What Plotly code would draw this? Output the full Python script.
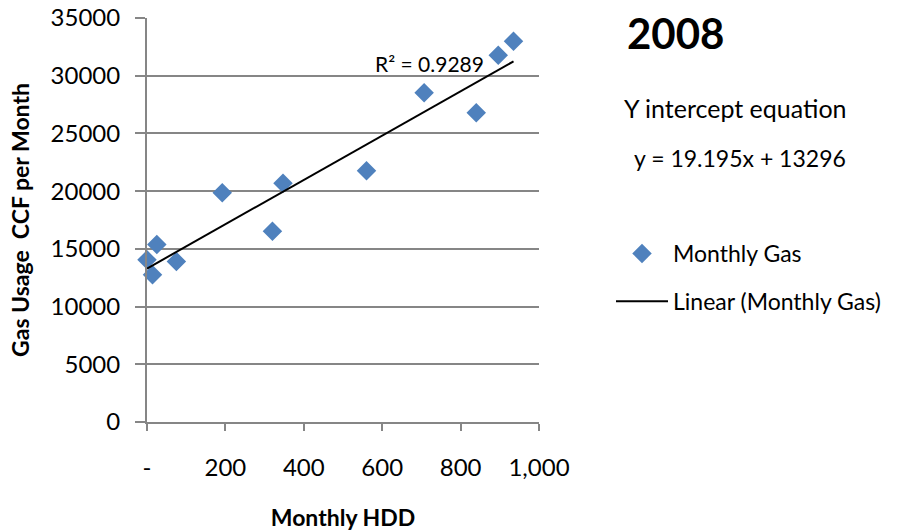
import plotly.graph_objects as go

# Data
hdd = [0, 14, 25, 75, 192, 320, 347, 560, 707, 840, 896, 935]
gas = [14050, 12750, 15370, 13900, 19850, 16520, 20680, 21770, 28520, 26790, 31780, 32990]

slope = 19.195
intercept = 13296
r2_text = "R² = 0.9289"

x_tickvals = [0, 200, 400, 600, 800, 1000]
x_ticktext = ["-", "200", "400", "600", "800", "1,000"]
y_tickvals = [0, 5000, 10000, 15000, 20000, 25000, 30000, 35000]
y_ticktext = [str(v) for v in y_tickvals]

FONT = "Lato"
trend_x = [min(hdd), max(hdd)]
trend_y = [slope * v + intercept for v in trend_x]

fig = go.Figure()
fig.add_trace(go.Scatter(
    x=hdd, y=gas, mode="markers", name="Monthly Gas",
    marker=dict(symbol="diamond", size=15, color="#4F81BD"),
    legendgroup="a", cliponaxis=False,
))
fig.add_trace(go.Scatter(
    x=trend_x, y=trend_y, mode="lines", name="Linear (Monthly Gas)",
    line=dict(color="black", width=2),
    legendgroup="b", cliponaxis=False,
))

L, R, T, B = 147, 362, 18, 109
fig.update_layout(
    width=901, height=531,
    margin=dict(l=L, r=R, t=T, b=B, autoexpand=False),
    plot_bgcolor="white", paper_bgcolor="white",
    font=dict(family=FONT, size=23, color="black"),
    showlegend=True,
    legend=dict(x=(611 - L) / 392, y=(531 - B - 232) / (531 - T - B), xanchor="left", yanchor="top",
                font=dict(size=23, family=FONT), tracegroupgap=15,
                itemwidth=52, bgcolor="rgba(0,0,0,0)"),
    xaxis=dict(
        range=[0, 1000], tickvals=x_tickvals, ticktext=x_ticktext, automargin=False,
        showgrid=False, zeroline=False, showline=True, linecolor="#868686", linewidth=2,
        ticks="outside", ticklen=7, tickcolor="#868686", tickwidth=2,
        ticklabelstandoff=16, tickfont=dict(size=24, family=FONT),
        title=dict(text="<b>Monthly HDD</b>", font=dict(size=23, family=FONT), standoff=31),
    ),
    yaxis=dict(
        range=[0, 35000], tickvals=y_tickvals, ticktext=y_ticktext, automargin=False,
        showgrid=True, gridcolor="#868686", gridwidth=2, zeroline=False,
        showline=True, linecolor="#868686", linewidth=2,
        ticks="outside", ticklen=10, tickcolor="#868686", tickwidth=2,
        ticklabelstandoff=10, tickfont=dict(size=24, family=FONT),
        title=dict(text="<b>Gas Usage  CCF per Month</b>", font=dict(size=23, family=FONT), standoff=15),
    ),
)

fig.add_annotation(x=721, y=31050, xref="x", yref="y", text=r2_text, showarrow=False,
                   font=dict(size=21, family=FONT), xanchor="center", yanchor="middle")

pw = 901 - L - R
ph = 531 - T - B
def px2paper(px, py):
    return (px - L) / pw, (531 - B - py) / ph

for txt, px, py, size in [("<b>2008</b>", 625, 33, 42),
                          ("Y intercept equation", 622, 108, 25),
                          (f"y = {slope}x + {intercept}", 632, 158, 23)]:
    ax, ay = px2paper(px, py)
    fig.add_annotation(x=ax, y=ay, xref="paper", yref="paper", text=txt, showarrow=False,
                       font=dict(size=size, family=FONT), xanchor="left", yanchor="middle")

fig.write_html("out.html")
